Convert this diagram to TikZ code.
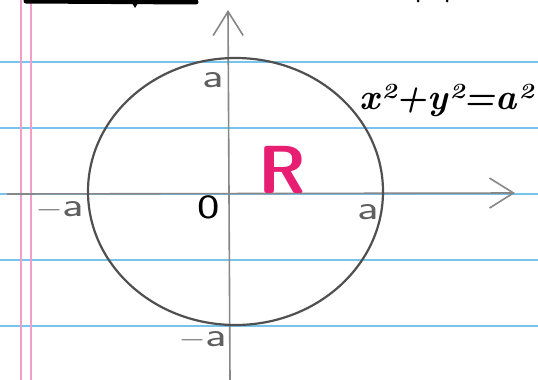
\documentclass[tikz,border=0pt]{standalone}
\usepackage{fontspec}
\usetikzlibrary{arrows.meta}
\definecolor{ruleblue}{RGB}{120,195,235}
\definecolor{marginpink}{RGB}{240,160,200}
\definecolor{axisgray}{RGB}{135,135,135}
\definecolor{circgray}{RGB}{80,80,80}
\definecolor{labgray}{RGB}{95,95,95}
\definecolor{rpink}{RGB}{232,30,115}
\tikzset{
  rule/.style={ruleblue, line width=1.6pt},
  margin/.style={marginpink, line width=2.8pt},
  axisline/.style={axisgray, line width=1.6pt, -{Straight Barb[length=24pt,width=30pt,line width=1.6pt]}},
  curve/.style={circgray, line width=2.2pt},
  lab/.style={labgray, font=\sffamily\fontsize{34}{34}\selectfont, inner sep=0pt, xscale=1.4, transform shape},
  eq/.style={black, font=\bfseries\itshape\fontsize{36}{36}\selectfont, inner sep=0pt},
  region/.style={rpink, font=\sffamily\bfseries\fontsize{68}{68}\selectfont, inner sep=0pt}
}
\begin{document}
\begin{tikzpicture}[x=1pt,y=-1pt]
\useasboundingbox (0,0) rectangle (538,380);
\fill[white] (0,0) rectangle (538,380);
% ruled lines
\foreach \yy in {62,128,194,260,326} \draw[rule] (0,\yy) -- (538,\yy);
% margin lines
\draw[margin] (21,0) -- (21,380);
\draw[margin] (31,0) -- (31,380);
% top scribbles
\draw[black, line width=5pt, line cap=round] (26,1) -- (196,2);
\fill[black] (132,3) -- (138,3) -- (135,8) -- cycle;
\fill[black] (418,1) circle (1.5);
\fill[black] (447,1) circle (1.5);
% axes
\coordinate (xs) at (7,194);
\coordinate (xe) at (515,193);
\coordinate (ys) at (230,380);
\coordinate (ye) at (228,10);
\draw[axisline] (xs) -- (xe);
\draw[axisline] (ys) -- (ye);
% circle
\coordinate (c) at (235.5,191.5);
\draw[curve] (c) ellipse [x radius=147.5, y radius=133.5];
% labels
\node[lab] (atop) at (213,80) {a};
\node[lab] (aleft) at (60,210) {$-$a};
\node[lab] (aright) at (368,212) {a};
\node[lab] (abot) at (203,340) {$-$a};
\node[lab, black] (orig) at (209,207) {0};
\node[region] (R) at (282,170) {R};
\node[eq] (equ) at (446,100) {x²+y²=a²};
\end{tikzpicture}
\end{document}
